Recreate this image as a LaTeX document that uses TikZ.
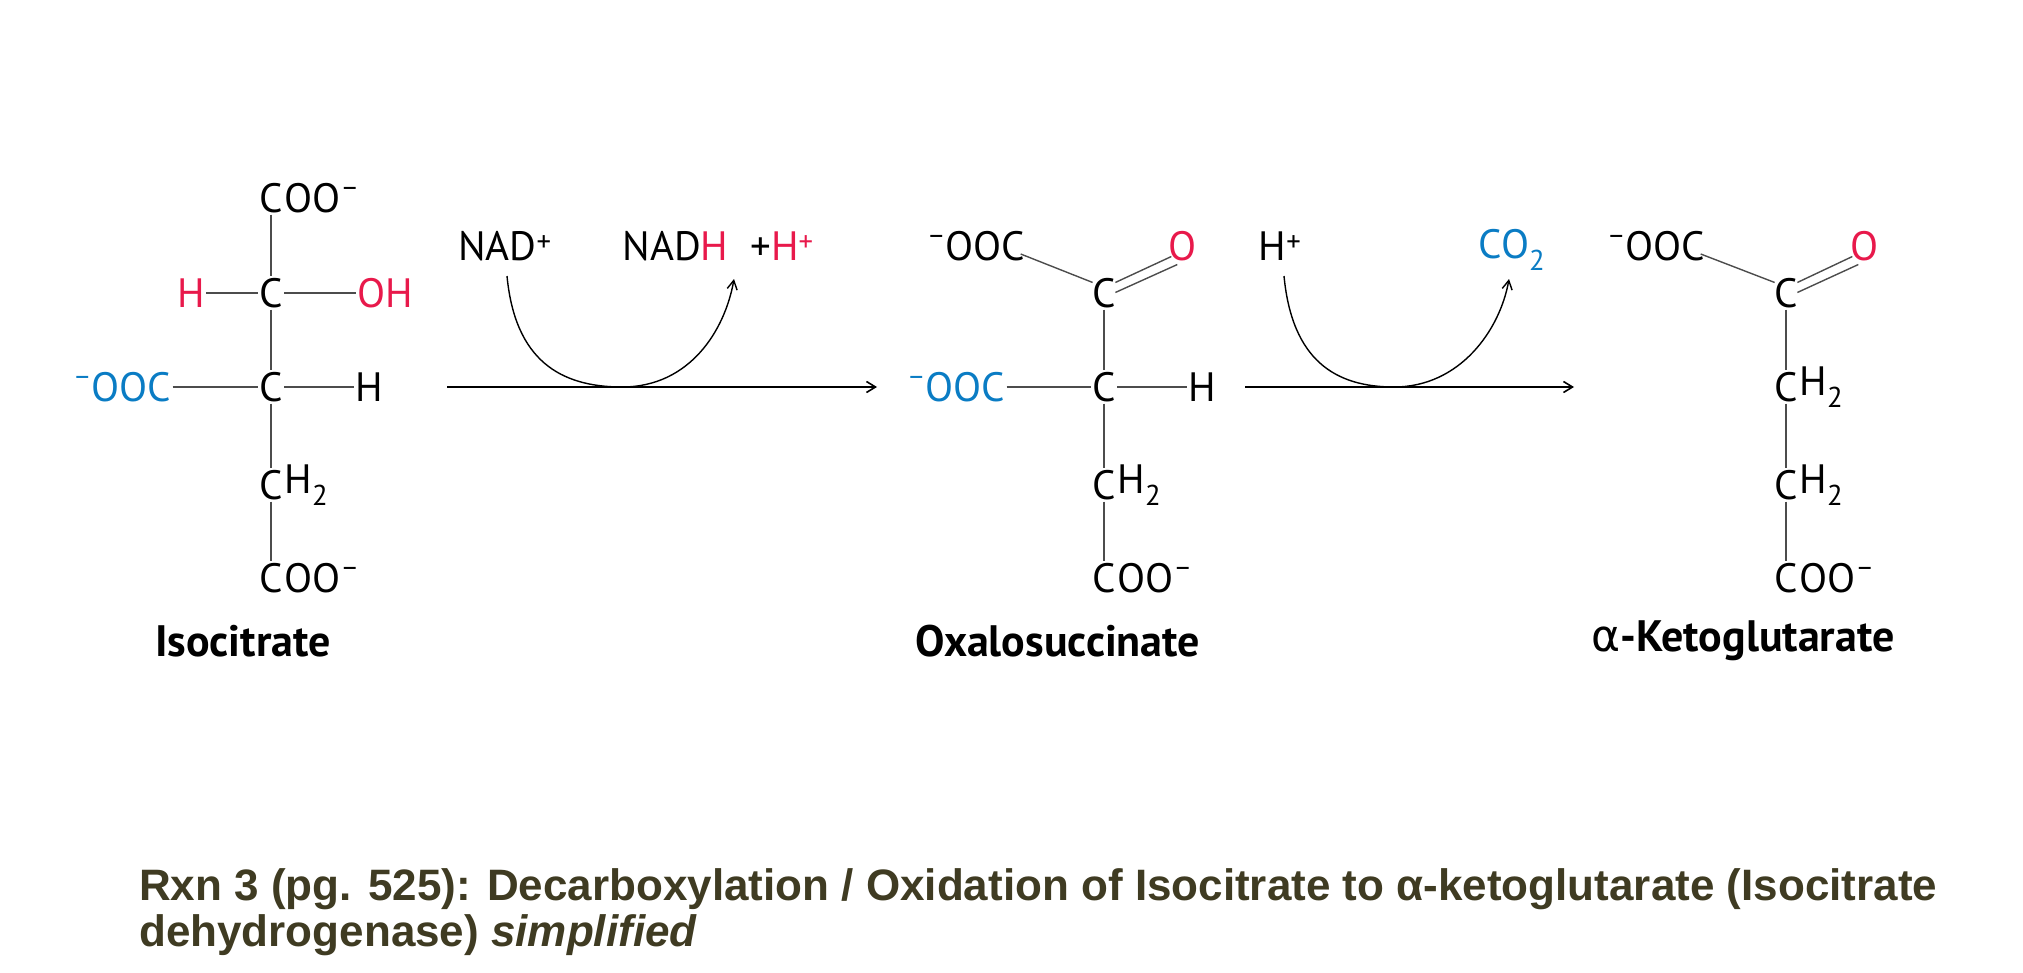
\documentclass[tikz,border=0pt]{standalone}
\usepackage{fontspec}
\setmainfont{PT Sans}
\newfontfamily\capfont{Liberation Sans}
\newfontfamily\djv{DejaVu Sans}
\usetikzlibrary{arrows.meta,positioning,calc}
\definecolor{cred}{HTML}{E8194B}
\definecolor{cblue}{HTML}{0A7CC4}
\definecolor{capc}{HTML}{3F3B22}
\newcommand{\minus}{\raisebox{0.75ex}{\fontsize{28}{28}\selectfont –}}
\begin{document}
\begin{tikzpicture}[x=1pt,y=-1pt,
  atm/.style={inner sep=1.5pt,font=\fontsize{41}{48}\selectfont},
  rest/.style={inner sep=0pt,anchor=west,font=\fontsize{41}{48}\selectfont},
  bond/.style={draw=black!70,line width=1.4pt},
  lbl/.style={inner sep=0pt,font=\fontsize{44}{50}\selectfont\bfseries},
  rx/.style={-{Straight Barb[length=9pt,width=11pt]},line width=1.6pt},
  curly/.style={-{Straight Barb[length=9pt,width=10pt]},line width=1.4pt}]
\useasboundingbox (0,0) rectangle (2023,972);
% ---- Isocitrate
\node[atm] (ia) at (271,198) {C};
\node[rest] (iar) at (ia.east) {OO\minus};
\node[atm] (ib) at (271,293) {C};
\node[atm,text=cred] (ibh) at (191,293) {H};
\node[atm,text=cred] (iboh) at (385,293) {OH};
\node[atm] (ic) at (271,387) {C};
\node[atm,text=cblue] (icl) at (122,387) {\minus OOC};
\node[atm] (ich) at (369,387) {H};
\node[atm] (id) at (271,485) {C};
\node[rest] (idr) at (id.east) {H\textsubscript{2}};
\node[atm] (ie) at (271,578) {C};
\node[rest] (ier) at (ie.east) {OO\minus};
\draw[bond] (ia) -- (ib);
\draw[bond] (ib) -- (ic);
\draw[bond] (ic) -- (id);
\draw[bond] (id) -- (ie);
\draw[bond] (ibh) -- (ib);
\draw[bond] (ib) -- (iboh);
\draw[bond] (icl) -- (ic);
\draw[bond] (ic) -- (ich);
\node[lbl] (il) at (243,641) {Isocitrate};
% ---- Arrow 1
\node[atm] (nad) at (505,246) {NAD\textsuperscript{+}};
\node[atm] (nadh) at (718,246) {NAD\textcolor{cred}{H}\ \ +\textcolor{cred}{H\textsuperscript{+}}};
\coordinate (a1s) at (447,387);
\coordinate (a1e) at (877,387);
\draw[rx] (a1s) -- (a1e);
\coordinate (c1s) at (507,276);
\coordinate (c1m) at (622,387);
\coordinate (c1e) at (734,279);
\draw[curly] (c1s) .. controls (515,360) and (560,387) .. (c1m) .. controls (690,387) and (725,330) .. (c1e);
% ---- Oxalosuccinate
\node[atm,text=black] (ot) at (976,246) {\minus OOC};
\node[atm,text=cred] (oo) at (1183,246) {O};
\node[atm] (ob) at (1104,293) {C};
\node[atm,text=cblue] (ocl) at (956,387) {\minus OOC};
\node[atm] (oc) at (1104,387) {C};
\node[atm] (och) at (1202,387) {H};
\node[atm] (od) at (1104,485) {C};
\node[rest] (odr) at (od.east) {H\textsubscript{2}};
\node[atm] (oe) at (1104,578) {C};
\node[rest] (oer) at (oe.east) {OO\minus};
\draw[bond] ($(ot.east)+(-6,8)$) -- ($(ob.north west)+(2,6)$);
\draw[bond] ($(ob.north east)+(-2,6)$) -- ($(oo.south west)+(4,-6)$);
\draw[bond] ($(ob.north east)+(-2,16)$) -- ($(oo.south west)+(10,2)$);
\draw[bond] (ob) -- (oc);
\draw[bond] (oc) -- (od);
\draw[bond] (od) -- (oe);
\draw[bond] (ocl) -- (oc);
\draw[bond] (oc) -- (och);
\node[lbl] (ol) at (1058,641) {Oxalosuccinate};
% ---- Arrow 2
\node[atm] (hp) at (1280,246) {H\textsuperscript{+}};
\node[atm,text=cblue] (co2) at (1512,250) {CO\textsubscript{2}};
\coordinate (a2s) at (1245,387);
\coordinate (a2e) at (1574,387);
\draw[rx] (a2s) -- (a2e);
\draw[curly] (1284,276) .. controls (1292,360) and (1335,387) .. (1394,387) .. controls (1460,387) and (1500,330) .. (1509,279);
% ---- alpha-Ketoglutarate
\node[atm] (kt) at (1656,246) {\minus OOC};
\node[atm,text=cred] (ko) at (1864,246) {O};
\node[atm] (kb) at (1786,293) {C};
\node[atm] (kc) at (1786,387) {C};
\node[rest] (kcr) at (kc.east) {H\textsubscript{2}};
\node[atm] (kd) at (1786,485) {C};
\node[rest] (kdr) at (kd.east) {H\textsubscript{2}};
\node[atm] (ke) at (1786,578) {C};
\node[rest] (ker) at (ke.east) {OO\minus};
\draw[bond] ($(kt.east)+(-6,8)$) -- ($(kb.north west)+(2,6)$);
\draw[bond] ($(kb.north east)+(-2,6)$) -- ($(ko.south west)+(4,-6)$);
\draw[bond] ($(kb.north east)+(-2,16)$) -- ($(ko.south west)+(10,2)$);
\draw[bond] (kb) -- (kc);
\draw[bond] (kc) -- (kd);
\draw[bond] (kd) -- (ke);
\node[lbl] (kl) at (1743,641) {\textmd{\djv α}-Ketoglutarate};
% ---- caption
\node[inner sep=0pt,anchor=west,text=capc,font=\capfont\fontsize{44}{46}\selectfont\bfseries,align=left] (cap) at (139,912)
 {Rxn 3 (pg. 525): Decarboxylation / Oxidation of Isocitrate to α-ketoglutarate (Isocitrate\\dehydrogenase) \textit{simplified}};
\end{tikzpicture}
\end{document}
